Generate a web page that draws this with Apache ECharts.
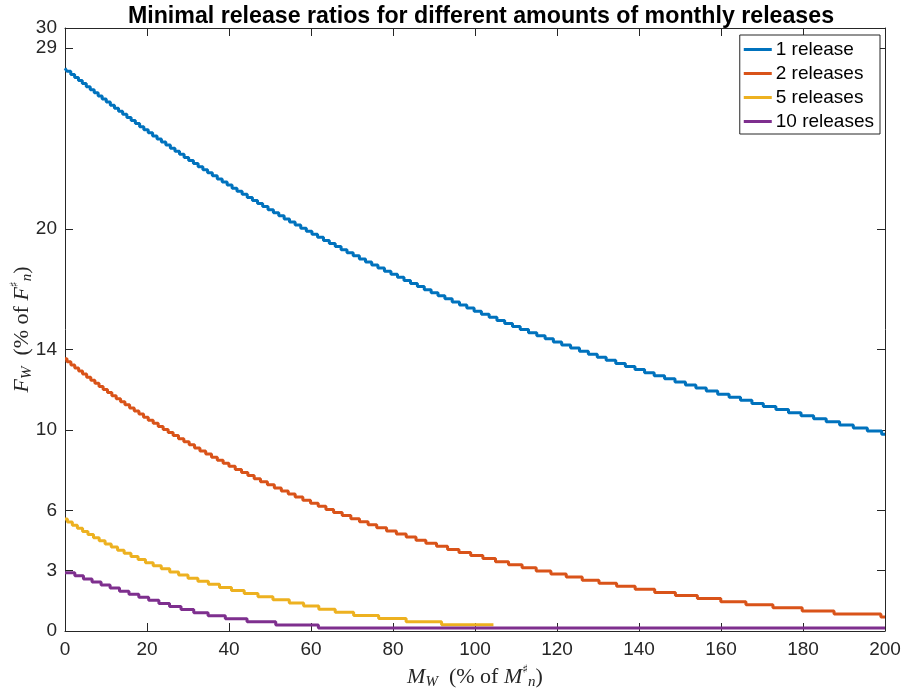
<!DOCTYPE html>
<html>
<head>
<meta charset="utf-8">
<script src="https://cdn.jsdelivr.net/npm/echarts@6/dist/echarts.min.js"></script>
<style>
html, body { margin: 0; padding: 0; background: #fff; }
#chart { width: 906px; height: 689px; }
</style>
</head>
<body>
<div id="chart"></div>
<script>
var seriesNames = ['1 release', '2 releases', '5 releases', '10 releases'];
var seriesColors = ['#0072BD', '#D95319', '#EDB120', '#7E2F8E'];
var xTicks = [0, 20, 40, 60, 80, 100, 120, 140, 160, 180, 200];
var yTicks = [0, 3, 6, 10, 14, 20, 29, 30];

// step start positions (x) and levels (y)
var blueX = [
	0, 0.47, 1.41, 2.35, 3.28, 4.22, 5.19, 6.16, 7.13, 8.09,
	9.06, 10.06, 11.06, 12.06, 13.06, 14.06, 15.09, 16.13, 17.16, 18.20,
	19.23, 20.30, 21.37, 22.45, 23.52, 24.59, 25.70, 26.82, 27.93, 29.05,
	30.16, 31.32, 32.47, 33.63, 34.78, 35.94, 37.14, 38.34, 39.55, 40.75,
	41.95, 43.20, 44.45, 45.71, 46.96, 48.21, 49.52, 50.83, 52.14, 53.45,
	54.76, 56.13, 57.50, 58.86, 60.23, 61.60, 63.04, 64.47, 65.91, 67.34,
	68.78, 70.29, 71.80, 73.30, 74.81, 76.32, 77.91, 79.50, 81.09, 82.68,
	84.27, 85.95, 87.63, 89.30, 90.98, 92.66, 94.44, 96.22, 98.00, 99.78,
	101.56, 103.45, 105.35, 107.24, 109.14, 111.03, 113.05, 115.07, 117.10, 119.12,
	121.14, 123.31, 125.48, 127.65, 129.82, 131.99, 134.33, 136.67, 139.02, 141.36,
	143.70, 146.24, 148.78, 151.33, 153.87, 156.41, 159.19, 161.97, 164.76, 167.54,
	170.32, 173.39, 176.46, 179.52, 182.59, 185.66, 188.93, 192.27, 195.69, 199.19
];
var blueY = [
	28.00, 27.85, 27.69, 27.54, 27.39, 27.24, 27.08, 26.93, 26.78, 26.62,
	26.47, 26.32, 26.16, 26.01, 25.86, 25.71, 25.55, 25.40, 25.25, 25.09,
	24.94, 24.79, 24.63, 24.48, 24.33, 24.18, 24.02, 23.87, 23.72, 23.56,
	23.41, 23.26, 23.10, 22.95, 22.80, 22.65, 22.49, 22.34, 22.19, 22.03,
	21.88, 21.73, 21.57, 21.42, 21.27, 21.12, 20.96, 20.81, 20.66, 20.50,
	20.35, 20.20, 20.04, 19.89, 19.74, 19.59, 19.43, 19.28, 19.13, 18.97,
	18.82, 18.67, 18.51, 18.36, 18.21, 18.06, 17.90, 17.75, 17.60, 17.44,
	17.29, 17.14, 16.98, 16.83, 16.68, 16.53, 16.37, 16.22, 16.07, 15.91,
	15.76, 15.61, 15.45, 15.30, 15.15, 15.00, 14.84, 14.69, 14.54, 14.38,
	14.23, 14.08, 13.92, 13.77, 13.62, 13.47, 13.31, 13.16, 13.01, 12.85,
	12.70, 12.55, 12.39, 12.24, 12.09, 11.94, 11.78, 11.63, 11.48, 11.32,
	11.17, 11.02, 10.86, 10.71, 10.56, 10.41, 10.25, 10.10, 9.95, 9.79
];

var orangeX = [
	0, 0.49, 1.44, 2.38, 3.33, 4.28, 5.28, 6.29, 7.29, 8.30,
	9.30, 10.36, 11.43, 12.49, 13.56, 14.62, 15.76, 16.89, 18.03, 19.16,
	20.30, 21.51, 22.73, 23.94, 25.16, 26.37, 27.68, 28.99, 30.29, 31.60,
	32.91, 34.32, 35.74, 37.15, 38.57, 39.98, 41.52, 43.06, 44.60, 46.14,
	47.68, 49.37, 51.06, 52.76, 54.45, 56.14, 58.01, 59.89, 61.76, 63.64,
	65.51, 67.61, 69.72, 71.82, 73.93, 76.03, 78.43, 80.82, 83.22, 85.61,
	88.01, 90.62, 93.31, 96.09, 98.95, 101.92, 105.00, 108.18, 111.49, 114.93,
	118.51, 122.25, 126.15, 130.24, 134.54, 139.06, 143.83, 148.88, 154.24, 159.95,
	166.08, 172.67, 179.80, 187.57, 199.0
];
var orangeY = [
	13.55, 13.40, 13.24, 13.09, 12.94, 12.79, 12.63, 12.48, 12.33, 12.17,
	12.02, 11.87, 11.71, 11.56, 11.41, 11.26, 11.10, 10.95, 10.80, 10.64,
	10.49, 10.34, 10.18, 10.03, 9.88, 9.73, 9.57, 9.42, 9.27, 9.11,
	8.96, 8.81, 8.65, 8.50, 8.35, 8.20, 8.04, 7.89, 7.74, 7.58,
	7.43, 7.28, 7.12, 6.97, 6.82, 6.67, 6.51, 6.36, 6.21, 6.05,
	5.90, 5.75, 5.59, 5.44, 5.29, 5.14, 4.98, 4.83, 4.68, 4.52,
	4.37, 4.22, 4.06, 3.91, 3.76, 3.61, 3.45, 3.30, 3.15, 2.99,
	2.84, 2.69, 2.53, 2.38, 2.23, 2.08, 1.92, 1.77, 1.62, 1.46,
	1.31, 1.16, 1.00, 0.85, 0.70
];

var yellowX = [
	0, 0.59, 1.79, 3.02, 4.29, 5.60, 6.95, 8.34, 9.78, 11.28,
	12.82, 14.42, 16.09, 17.82, 19.62, 21.51, 23.48, 25.54, 27.71, 30.00,
	32.41, 34.97, 37.69, 40.60, 43.71, 47.07, 50.72, 54.70, 58.2, 61.9,
	65.9, 70.4, 76.5, 83.2, 91.85
];
var yellowY = [
	5.57, 5.42, 5.26, 5.11, 4.95, 4.80, 4.64, 4.49, 4.33, 4.18,
	4.02, 3.87, 3.71, 3.56, 3.40, 3.25, 3.10, 2.94, 2.79, 2.63,
	2.48, 2.32, 2.17, 2.01, 1.86, 1.70, 1.55, 1.39, 1.24, 1.08,
	0.93, 0.77, 0.62, 0.46, 0.31
];

var purpleX = [0, 2.4, 4.5, 6.6, 8.8, 11.0, 13.3, 15.6, 18.0, 20.4, 22.9, 25.5, 28.3, 31.4, 34.9, 39.1, 44.4, 51.4, 61.8];
var purpleY = [2.90, 2.75, 2.59, 2.44, 2.29, 2.14, 1.98, 1.83, 1.68, 1.53, 1.37, 1.22, 1.07, 0.91, 0.76, 0.61, 0.46, 0.30, 0.15];

// where each curve stops
var xEnds = [200, 200, 104.5, 200];

function stairs(xs, ys, xEnd) {
	var pts = [];
	for (var i = 0; i < xs.length; i++) {
		pts.push([xs[i], ys[i]]);
	}
	pts.push([xEnd, ys[ys.length - 1]]);
	return pts;
}

var allX = [blueX, orangeX, yellowX, purpleX];
var allY = [blueY, orangeY, yellowY, purpleY];

var axisColor = '#262626';
var sansFont = 'Liberation Sans, Arial, Helvetica, sans-serif';
var serifFont = 'Liberation Serif, Times New Roman, serif';

var seriesList = [];
for (var s = 0; s < seriesNames.length; s++) {
	seriesList.push({
		name: seriesNames[s],
		type: 'line',
		step: 'end',
		symbol: 'none',
		showSymbol: false,
		xAxisIndex: 0,
		yAxisIndex: 0,
		color: seriesColors[s],
		lineStyle: { width: 3, color: seriesColors[s] },
		data: stairs(allX[s], allY[s], xEnds[s])
	});
}

var nameRich = {
	i: { fontFamily: serifFont, fontStyle: 'italic', fontSize: 22, lineHeight: 26, color: axisColor },
	r: { fontFamily: serifFont, fontSize: 22, lineHeight: 26, color: axisColor },
	sb: { fontFamily: serifFont, fontStyle: 'italic', fontSize: 15, lineHeight: 15, verticalAlign: 'bottom', color: axisColor },
	sp: { fontFamily: 'DejaVu Sans', fontSize: 12, lineHeight: 15, verticalAlign: 'top', color: axisColor }
};

function xAxisDef(pos, showLabels) {
	return {
		type: 'value',
		position: pos,
		min: 0,
		max: 200,
		interval: 20,
		axisLine: { show: true, onZero: false, lineStyle: { color: axisColor, width: 1 } },
		axisTick: { show: true, inside: true, length: 8, lineStyle: { color: axisColor } },
		axisLabel: { show: showLabels, margin: 9, fontSize: 19, fontFamily: sansFont, color: axisColor },
		splitLine: { show: false }
	};
}

function yAxisDef(pos, showLabels) {
	return {
		type: 'value',
		position: pos,
		min: 0,
		max: 30,
		axisLine: { show: true, onZero: false, lineStyle: { color: axisColor, width: 1 } },
		axisTick: { show: true, inside: true, length: 8, customValues: yTicks, lineStyle: { color: axisColor } },
		axisLabel: { show: showLabels, margin: 8, fontSize: 19, fontFamily: sansFont, color: axisColor, customValues: yTicks },
		splitLine: { show: false }
	};
}

var xMain = xAxisDef('bottom', true);
xMain.name = '{i|M}{sb|W}{r|  (% of }{i|M}{sp|\u266F}{sb|n}{r|)}';
xMain.nameLocation = 'middle';
xMain.nameGap = 30;
xMain.nameTextStyle = { rich: nameRich };

var yMain = yAxisDef('left', true);
yMain.name = '{i|F}{sb|W}{r|  (% of }{i|F}{sp|\u266F}{sb|n}{r|)}';
yMain.nameLocation = 'middle';
yMain.nameGap = 30;
yMain.nameMoveOverlap = false;
yMain.nameTextStyle = { rich: nameRich };

var option = {
	animation: false,
	backgroundColor: '#ffffff',
	title: {
		text: 'Minimal release ratios for different amounts of monthly releases',
		left: 476,
		textAlign: 'center',
		top: 0,
		textStyle: { fontFamily: sansFont, fontWeight: 'bold', fontSize: 23.2, color: '#000' }
	},
	grid: { left: 65, right: 21, top: 28, bottom: 58, containLabel: false, outerBoundsMode: 'none' },
	legend: {
		data: seriesNames,
		right: 26,
		top: 35,
		orient: 'vertical',
		icon: 'rect',
		itemWidth: 28,
		itemHeight: 3,
		itemGap: 5,
		padding: [5, 6, 3, 4],
		backgroundColor: '#fff',
		borderColor: axisColor,
		borderWidth: 1,
		borderRadius: 0,
		textStyle: { fontFamily: sansFont, fontSize: 19, lineHeight: 19, color: '#000', padding: [0, 0, 0, -1] }
	},
	xAxis: [xMain, xAxisDef('top', false)],
	yAxis: [yMain, yAxisDef('right', false)],
	series: seriesList
};

var chart = echarts.init(document.getElementById('chart'));
chart.setOption(option);
</script>
</body>
</html>
